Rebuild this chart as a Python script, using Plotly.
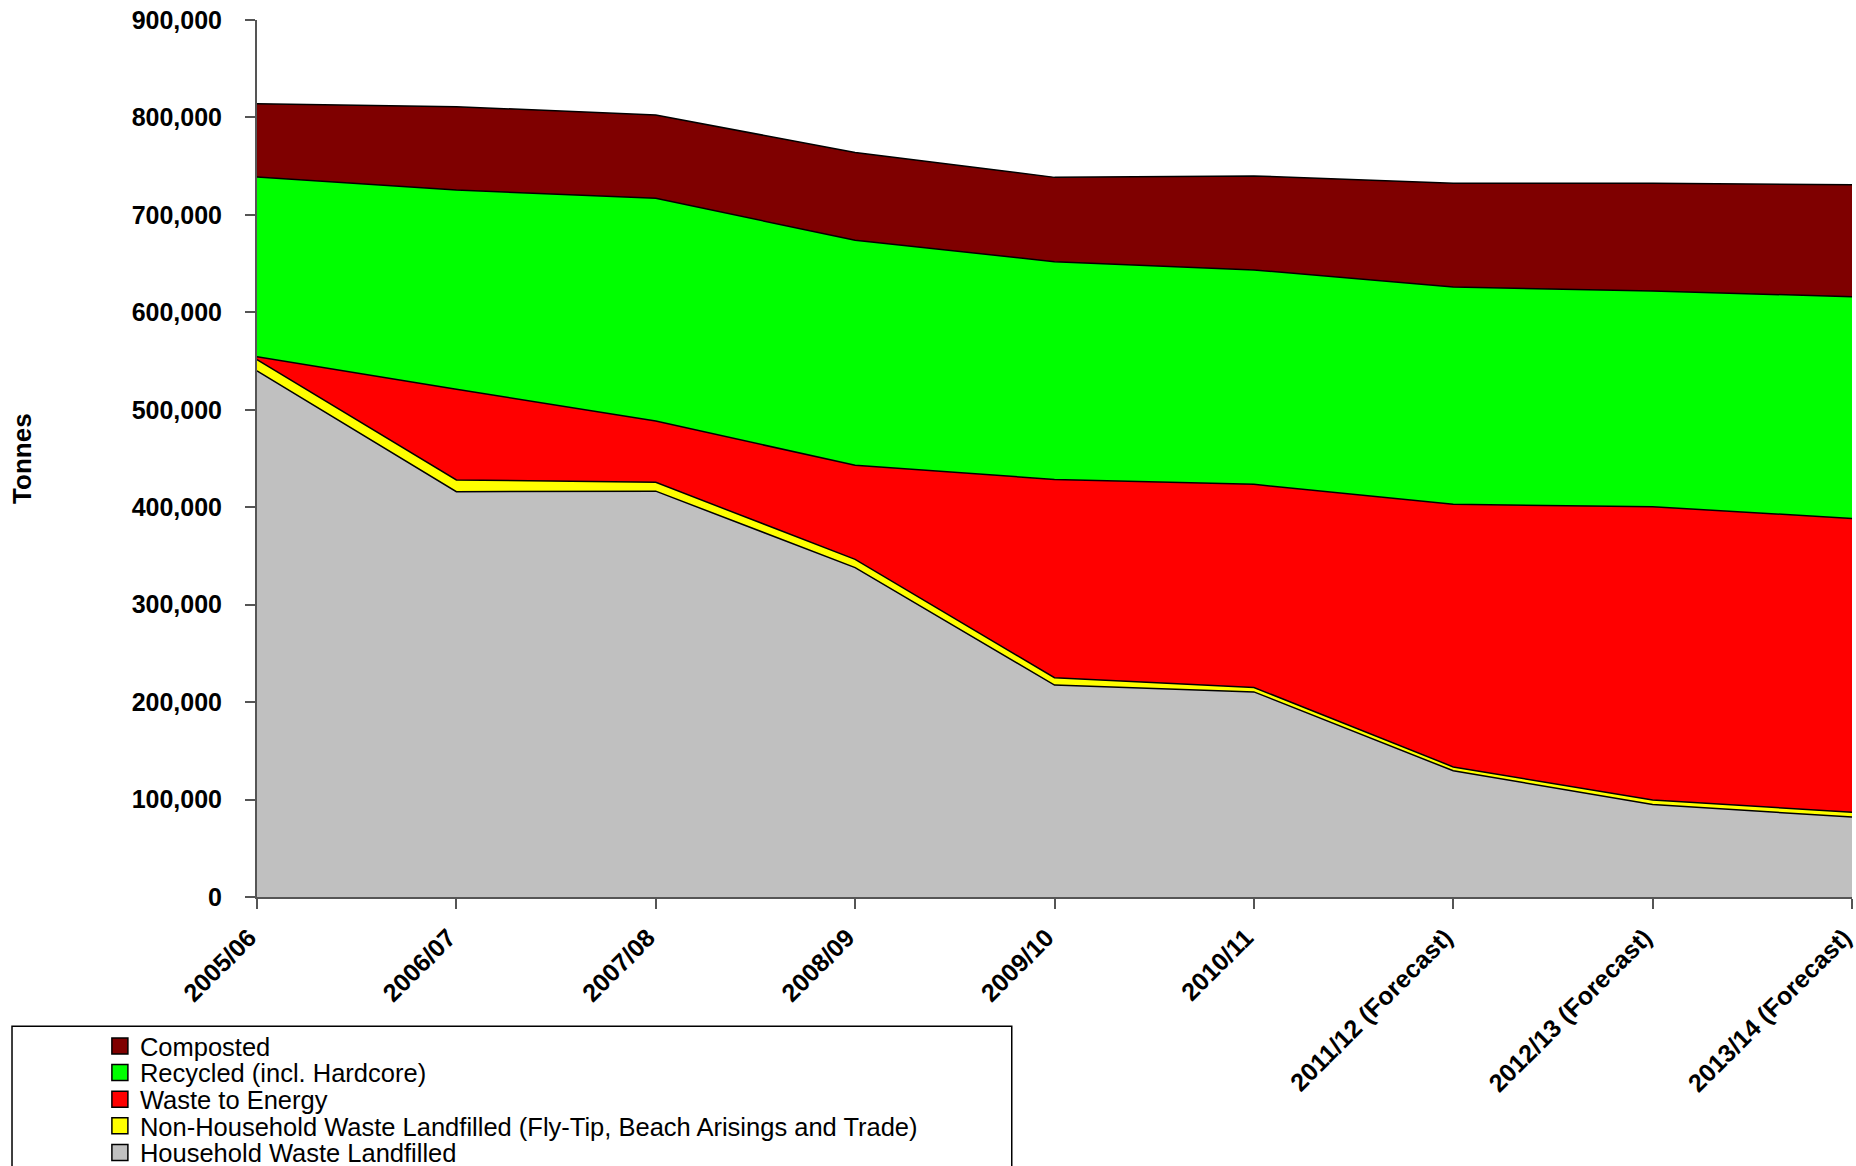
import plotly.graph_objects as go

years = ["2005/06", "2006/07", "2007/08", "2008/09", "2009/10", "2010/11",
         "2011/12 (Forecast)", "2012/13 (Forecast)", "2013/14 (Forecast)"]

household_landfilled = [540000, 416000, 416500, 338000, 217500, 210500, 129500, 95000, 82000]
non_household_landfilled = [11500, 12000, 9000, 8500, 7500, 4500, 4000, 4500, 5000]
waste_to_energy = [3000, 93000, 63000, 96500, 203500, 208500, 269500, 301000, 301500]
recycled = [184500, 204500, 228500, 231000, 223500, 220000, 223000, 221500, 227500]
composted = [75000, 85500, 85500, 90000, 86500, 96500, 106500, 110500, 115000]

series = [
    ("Household Waste Landfilled", household_landfilled, "#C0C0C0"),
    ("Non-Household Waste Landfilled (Fly-Tip, Beach Arisings and Trade)", non_household_landfilled, "#FFFF00"),
    ("Waste to Energy", waste_to_energy, "#FF0000"),
    ("Recycled (incl. Hardcore)", recycled, "#00FF00"),
    ("Composted", composted, "#7F0000"),
]

FONT = "Arial, Liberation Sans, sans-serif"

fig = go.Figure()
for name, vals, col in series:
    fig.add_trace(go.Scatter(
        x=years, y=vals, name=name, mode="lines", stackgroup="one",
        line=dict(color="black", width=1.5), fillcolor=col,
        showlegend=False, hoverinfo="x+y+name",
    ))

# legend entries (square swatches), top to bottom, one legend each for tight spacing
legend_names = ["legend", "legend2", "legend3", "legend4", "legend5"]
legend_y = [-0.1703, -0.2006, -0.2310, -0.2613, -0.2917]
for lg, (name, vals, col) in zip(legend_names, reversed(series)):
    fig.add_trace(go.Scatter(
        x=[None], y=[None], name=name, mode="markers", legend=lg,
        marker=dict(symbol="square", size=16, color=col, line=dict(color="black", width=1.5)),
        showlegend=True, hoverinfo="skip",
    ))

legend_layouts = {}
for lg, ly in zip(legend_names, legend_y):
    legend_layouts[lg] = dict(
        x=-0.0985, y=ly, xanchor="left", yanchor="middle",
        bgcolor="rgba(0,0,0,0)", borderwidth=0,
        font=dict(family=FONT, size=25.5, color="black"),
        itemclick=False, itemdoubleclick=False,
    )

axis_col = "#555555"
fig.update_layout(
    width=1856, height=1166,
    margin=dict(l=257, r=3.5, t=20, b=269, autoexpand=False),
    plot_bgcolor="white", paper_bgcolor="white",
    font=dict(family=FONT, color="black"),
    xaxis=dict(
        type="category", range=[0, 8], showgrid=False, zeroline=False, automargin=False,
        showline=True, linecolor=axis_col, linewidth=2,
        ticks="outside", ticklen=10, tickcolor=axis_col, tickwidth=2,
        tickangle=-45, ticklabelshift=-8, ticklabelstandoff=4, ticklabeloverflow="allow",
        tickfont=dict(family=FONT, size=25, weight="bold", color="black"),
    ),
    yaxis=dict(
        range=[0, 900000], tickvals=[0, 100000, 200000, 300000, 400000, 500000, 600000, 700000, 800000, 900000],
        tickformat=",d", showgrid=False, zeroline=False, automargin=False,
        showline=True, linecolor=axis_col, linewidth=2,
        ticks="outside", ticklen=10, tickcolor=axis_col, tickwidth=2,
        ticklabelstandoff=18, ticklabeloverflow="allow",
        tickfont=dict(family=FONT, size=25, weight="bold", color="black"),
    ),
    annotations=[dict(
        text="<b>Tonnes</b>", xref="paper", yref="paper", x=-0.1477, y=0.5,
        xanchor="center", yanchor="middle", textangle=-90, showarrow=False,
        font=dict(family=FONT, size=26, color="black"),
    )],
    shapes=[dict(
        type="rect", xref="paper", yref="paper",
        x0=-0.1536, x1=0.4732, y0=-0.1475, y1=-0.33,
        line=dict(color="black", width=1.5), fillcolor="rgba(0,0,0,0)", layer="below",
    )],
    **legend_layouts,
)

fig.write_html(
    "out.html",
    config={"displayModeBar": False},
    post_script="document.body.style.margin='0';document.body.style.overflow='hidden';",
)
